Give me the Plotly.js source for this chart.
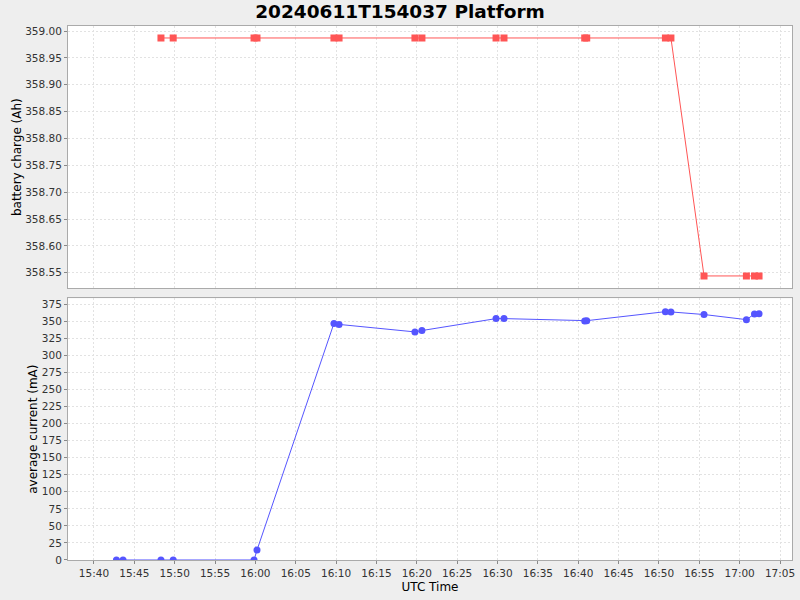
<!DOCTYPE html>
<html>
<head>
<meta charset="utf-8">
<script src="https://cdn.plot.ly/plotly-3.0.1.min.js"></script>
<style>html,body{margin:0;padding:0;background:#eeeeee;}</style>
</head>
<body>
<div id="chart" style="width:800px;height:600px;"></div>
<script>
const chargeTimes = [
  '2024-06-11 15:48:18','2024-06-11 15:49:49','2024-06-11 15:59:50','2024-06-11 16:00:12',
  '2024-06-11 16:09:44','2024-06-11 16:10:22','2024-06-11 16:19:46','2024-06-11 16:20:38',
  '2024-06-11 16:29:49','2024-06-11 16:30:48','2024-06-11 16:40:48','2024-06-11 16:41:03',
  '2024-06-11 16:50:48','2024-06-11 16:51:29','2024-06-11 16:55:35','2024-06-11 17:00:50',
  '2024-06-11 17:01:50','2024-06-11 17:02:24'
];
const chargeValues = [
  358.987,358.987,358.987,358.987,358.987,358.987,358.987,358.987,358.987,358.987,
  358.987,358.987,358.987,358.987,358.544,358.544,358.544,358.544
];
const currentTimes = [
  '2024-06-11 15:42:47','2024-06-11 15:43:36',
  '2024-06-11 15:48:18','2024-06-11 15:49:49','2024-06-11 15:59:50','2024-06-11 16:00:12',
  '2024-06-11 16:09:44','2024-06-11 16:10:22','2024-06-11 16:19:46','2024-06-11 16:20:38',
  '2024-06-11 16:29:49','2024-06-11 16:30:48','2024-06-11 16:40:48','2024-06-11 16:41:03',
  '2024-06-11 16:50:48','2024-06-11 16:51:29','2024-06-11 16:55:35','2024-06-11 17:00:50',
  '2024-06-11 17:01:50','2024-06-11 17:02:24'
];
const currentValues = [
  0,0,0,0,0,14.5,347,345.5,334.5,336.5,354,354,350.5,351,364.2,363.8,360,352.5,360.8,361.3
];
const chartTitle = '20240611T154037 Platform';
const chargeLabel = 'battery charge (Ah)';
const currentLabel = 'average current (mA)';
const timeLabel = 'UTC Time';

const axisCommon = {
  showline: true, linecolor: '#aaaaaa', linewidth: 1, mirror: true,
  gridcolor: '#e2e2e2', griddash: '2px,2px', gridwidth: 1,
  ticks: 'outside', ticklen: 3, tickcolor: '#888888',
  tickfont: {family: 'DejaVu Sans', size: 10.5, color: '#333333'},
  zeroline: false
};
const xr = ['2024-06-11 15:36:47', '2024-06-11 17:06:29'];

const data = [
  {x: chargeTimes, y: chargeValues, type: 'scatter', mode: 'lines+markers',
   xaxis: 'x', yaxis: 'y',
   line: {color: '#ff5555', width: 1},
   marker: {symbol: 'square', size: 7, color: '#ff5555'}},
  {x: currentTimes, y: currentValues, type: 'scatter', mode: 'lines+markers',
   xaxis: 'x2', yaxis: 'y2',
   line: {color: '#5555ff', width: 1},
   marker: {symbol: 'circle', size: 7, color: '#5555ff'}}
];

const layout = {
  width: 800, height: 600,
  paper_bgcolor: '#eeeeee', plot_bgcolor: '#ffffff',
  showlegend: false,
  margin: {l: 68, r: 8, t: 26, b: 40},
  title: {text: '<b>' + chartTitle + '</b>', x: 0.5, xanchor: 'center', y: 0.98, yanchor: 'middle',
          font: {family: 'DejaVu Sans', size: 18.5, color: '#000000'}},
  xaxis: Object.assign({}, axisCommon, {
    type: 'date', range: xr, domain: [0, 1], anchor: 'y',
    dtick: 300000, tick0: '2024-06-11 15:40:00', tickformat: '%H:%M',
    showticklabels: false, ticks: '', matches: 'x2'
  }),
  yaxis: Object.assign({}, axisCommon, {
    domain: [0.5088, 1], anchor: 'x',
    range: [358.521, 359.0093], dtick: 0.05, tick0: 358.55, tickformat: '.2f',
    title: {text: chargeLabel, font: {family: 'DejaVu Sans', size: 12, color: '#000000'}, standoff: 0}
  }),
  xaxis2: Object.assign({}, axisCommon, {
    type: 'date', range: xr, domain: [0, 1], anchor: 'y2',
    dtick: 300000, tick0: '2024-06-11 15:40:00', tickformat: '%H:%M',
    title: {text: timeLabel, font: {family: 'DejaVu Sans', size: 12, color: '#000000'}, standoff: 5}
  }),
  yaxis2: Object.assign({}, axisCommon, {
    domain: [0, 0.4901], anchor: 'x2',
    range: [0, 383.8], dtick: 25, tick0: 0,
    title: {text: currentLabel, font: {family: 'DejaVu Sans', size: 12, color: '#000000'}, standoff: 1}
  })
};

Plotly.newPlot('chart', data, layout, {displayModeBar: false, staticPlot: true});
</script>
</body>
</html>
